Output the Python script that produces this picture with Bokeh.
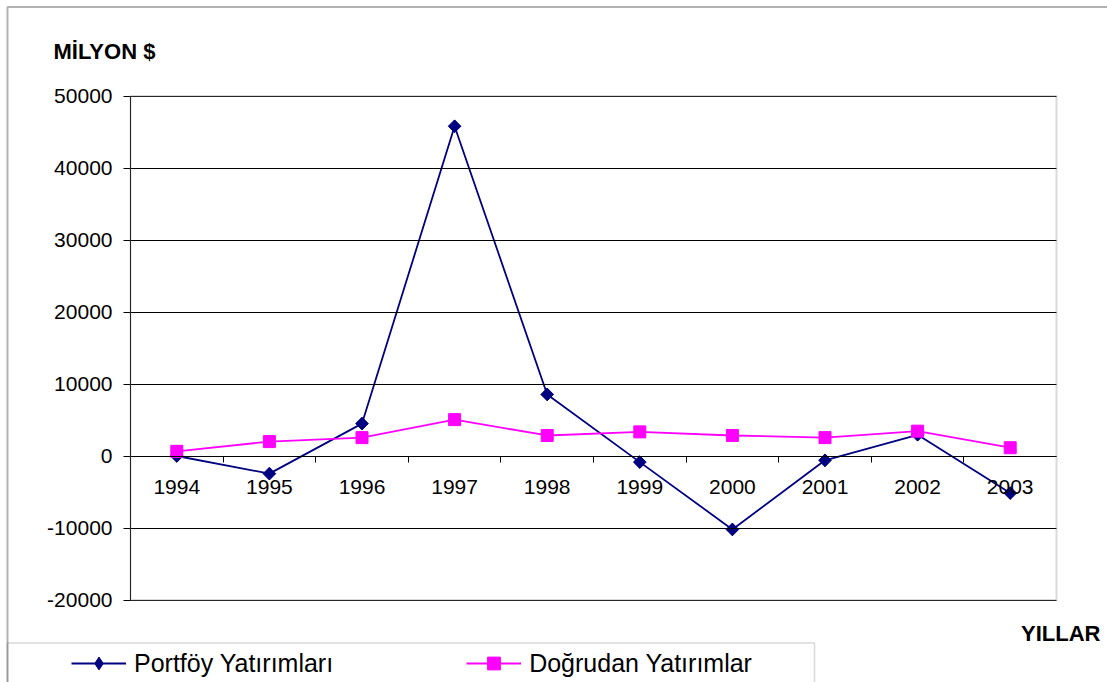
import math
from bokeh.plotting import figure
from bokeh.models import (Range1d, FixedTicker, LinearAxis, Legend, LegendItem,
                          Label, BoxAnnotation, NumeralTickFormatter)
from bokeh.embed import file_html
from bokeh.resources import INLINE

# ---- data ----
years = ["1994", "1995", "1996", "1997", "1998", "1999", "2000", "2001", "2002", "2003"]
portfoy = [0, -2450, 4500, 45800, 8550, -850, -10200, -600, 2950, -5150]
dogrudan = [650, 2000, 2550, 5050, 2850, 3350, 2850, 2550, 3450, 1150]
y_ticks = [-20000, -10000, 0, 10000, 20000, 30000, 40000, 50000]
series_names = ["Portföy Yatırımları", "Doğrudan Yatırımlar"]
y_title = "MİLYON $"
x_title = "YILLAR"

FONT = "Liberation Sans"
NAVY = "#000080"
MAGENTA = "#FF00FF"

# ---- layout (pixels) ----
W, H = 1107, 682
PLOT_L, PLOT_R = 130, 1056
PLOT_T, PLOT_B = 95.5, 599.5

xs = list(range(len(years)))
X0, X1 = -0.5, len(years) - 0.5
Y0, Y1 = y_ticks[0], y_ticks[-1]


def dx(px):
    return X0 + (px - PLOT_L) * (X1 - X0) / (PLOT_R - PLOT_L)


def dy(py):
    return Y1 - (py - PLOT_T) * (Y1 - Y0) / (PLOT_B - PLOT_T)


p = figure(width=W, height=H, output_backend="svg", toolbar_location=None,
           x_range=Range1d(dx(0), dx(W)), y_range=Range1d(dy(H), dy(0)),
           x_axis_location=None, y_axis_location=None,
           min_border_left=0, min_border_right=0, min_border_top=0, min_border_bottom=0)
p.background_fill_color = "white"
p.border_fill_color = "white"
p.outline_line_color = None
p.grid.visible = False

# y axis with grid lines as long inward ticks
yax = LinearAxis(ticker=FixedTicker(ticks=y_ticks), fixed_location=X0, bounds=(Y0, Y1),
                 formatter=NumeralTickFormatter(format="0"),
                 major_label_text_font=FONT, major_label_text_font_size="21px",
                 major_label_text_color="black", major_tick_out=7,
                 major_tick_in=PLOT_R - PLOT_L, major_tick_line_color="black",
                 major_tick_line_width=1, minor_tick_line_color=None,
                 axis_line_color="black", major_label_standoff=11)
p.add_layout(yax, "left")

# x axis: boundary ticks + centered labels, crossing at y = 0
ax_ticks = LinearAxis(ticker=FixedTicker(ticks=[i + 0.5 for i in range(len(years) - 1)]),
                      fixed_location=0, bounds=(X0, X1), major_tick_out=6, major_tick_in=0,
                      major_tick_line_color="black", minor_tick_line_color=None,
                      axis_line_color="black", major_label_text_alpha=0,
                      major_label_text_font_size="10px")
ax_labels = LinearAxis(ticker=FixedTicker(ticks=xs), fixed_location=0, bounds=(X0, X1),
                       major_tick_out=0, major_tick_in=0,
                       major_tick_line_color=None, minor_tick_line_color=None,
                       axis_line_color=None,
                       major_label_overrides={i: y for i, y in enumerate(years)},
                       major_label_standoff=24,
                       major_label_text_font=FONT,
                       major_label_text_font_size="21px",
                       major_label_text_color="black")
p.add_layout(ax_ticks, "below")
p.add_layout(ax_labels, "below")

# series
r1l = p.line(xs, portfoy, line_color=NAVY, line_width=1.8)
r1d = p.scatter(xs, portfoy, marker="diamond", size=12,
                fill_color=NAVY, line_color=NAVY)
r1m = p.scatter(xs, portfoy, marker="square", angle=math.pi / 4, size=9,
                fill_color=NAVY, line_color=NAVY)
r2l = p.line(xs, dogrudan, line_color=MAGENTA, line_width=1.8)
r2m = p.scatter(xs, dogrudan, marker="square", size=12,
                fill_color=MAGENTA, line_color=MAGENTA)

# plot-area border
p.add_layout(BoxAnnotation(left=X0, right=X1, bottom=Y0, top=Y1,
                           fill_alpha=0, line_color="#808080", line_width=2))

# legend
legend = Legend(items=[LegendItem(label=series_names[0], renderers=[r1l, r1d]),
                       LegendItem(label=series_names[1], renderers=[r2l, r2m])],
                orientation="horizontal", location=(71, 3), padding=4, margin=0,
                spacing=133, glyph_width=55, glyph_height=32, label_height=20,
                label_width=20, label_standoff=8,
                label_text_font=FONT, label_text_font_size="25px",
                label_text_color="black",
                border_line_color=None, background_fill_alpha=0)
p.add_layout(legend)

# legend box and outer chart border
p.add_layout(BoxAnnotation(left=dx(7), right=dx(814), top=dy(642.5), bottom=dy(H + 20),
                           fill_alpha=0, line_color="#808080", line_width=1.5))
p.add_layout(BoxAnnotation(left=dx(7), right=dx(W + 20), top=dy(6.5), bottom=dy(H + 20),
                           fill_alpha=0, line_color="#000000", line_width=2))

# titles
p.add_layout(Label(x=dx(53), y=dy(50.5), text=y_title,
                   text_font=FONT, text_font_style="bold", text_font_size="22px",
                   text_baseline="middle", text_align="left", text_color="black"))
p.add_layout(Label(x=dx(1100), y=dy(633), text=x_title,
                   text_font=FONT, text_font_style="bold", text_font_size="22px",
                   text_baseline="middle", text_align="right", text_color="black"))

open("out.html", "w").write(file_html(p, INLINE))
